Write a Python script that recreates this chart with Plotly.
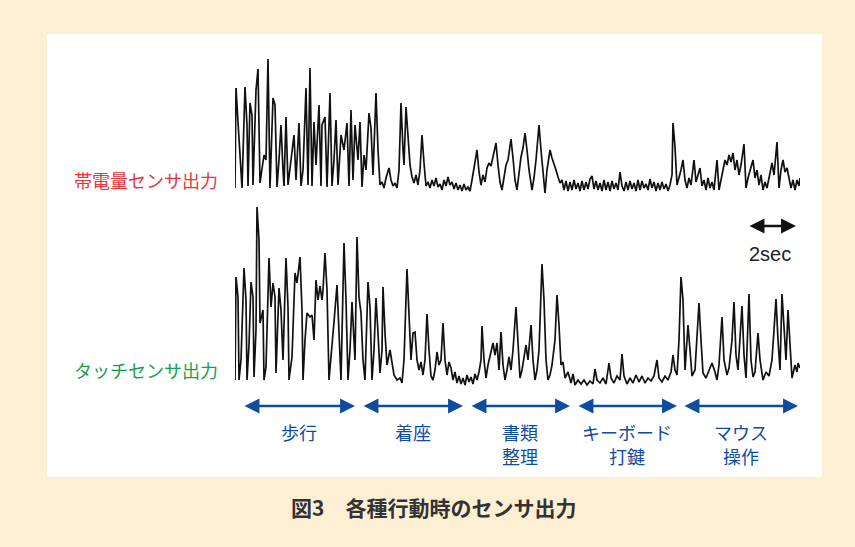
import plotly.graph_objects as go

# ---------------- data ----------------
SAMPLE_RATE = 24  # samples per second (sample index -> seconds)

# 帯電量センサ出力 (charge sensor), sample index and amplitude (a.u.)
charge_n = [0, 1, 3, 5, 7, 10, 12, 13, 15, 17, 18, 21, 23, 25, 27, 29, 31, 33, 35, 38, 40, 42, 44, 46, 48, 49,
            51, 53, 56, 59, 61, 64, 66, 68, 71, 73, 75, 77, 79, 81, 84, 86, 87, 90, 92, 95, 97, 99, 101, 103,
            106, 109, 112, 114, 116, 118, 120, 123, 125, 127, 129, 131, 134, 136, 138, 141, 143, 145,
            147, 149, 151, 154, 156, 158, 160, 162, 164, 166, 168, 169, 171, 173, 175, 177, 179, 181, 183, 185,
            187, 189, 191, 193, 195, 197, 199, 201, 203, 205, 207, 209, 211, 213, 215, 217, 219, 221, 223, 225,
            227, 229, 231, 233, 235,
            237, 239, 242, 244, 246, 248, 250, 252, 254, 256, 258, 261, 263, 265, 267, 269, 271, 273, 276, 278,
            280, 282, 284, 286, 288, 290, 292, 294, 297, 299, 301, 304, 306, 308, 310, 312, 315, 317, 319, 321,
            323, 325, 327,
            329, 331, 333, 335, 337, 339, 341, 343, 345, 347, 349, 351, 353, 355, 357, 359, 361, 363, 365, 367,
            369, 371, 373, 375, 377, 379, 381, 383, 385, 387, 389, 391, 393, 395, 397, 399, 401, 403, 405, 407,
            409, 411, 413, 415, 417, 419, 421, 423, 425, 427, 429, 431, 433, 435,
            437, 438, 440, 442, 444, 446, 448, 450, 452, 454, 456, 459, 461, 463, 465, 467, 469, 471, 473, 475,
            477, 479, 482, 484, 486, 488, 490, 492, 494, 496, 498, 500, 502, 504, 506, 509, 511, 513, 515, 518,
            520, 522, 524, 526, 528, 530, 532, 534, 537, 539, 542, 544, 546, 548, 550, 552, 554, 556, 558, 560,
            562, 564, 565]
charge_v = [5, 105, 71, 43, 5, 106, 68, 7, 90, 78, 8, 103, 124, 10, 23, 38, 33, 134, 5, 95, 88, 6, 33, 68, 23, 7,
            76, 8, 33, 58, 13, 70, 7, 23, 105, 8, 125, 7, 71, 28, 88, 7, 68, 76, 6, 100, 7, 33, 73, 8,
            58, 43, 70, 7, 83, 13, 68, 33, 71, 6, 38, 23, 80, 65, 18, 100, 43, 8,
            11, 5, 15, 25, 13, 7, 10, 5, 23, 90, 43, 28, 86, 60, 28, 16, 10, 18, 8, 23,
            58, 30, 7, 11, 5, 13, 7, 15, 6, 9, 3, 13, 7, 16, 8, 11, 4, 10, 3, 8,
            2, 9, 3, 6, 2,
            13, 25, 43, 21, 8, 18, 11, 25, 30, 27, 35, 50, 28, 11, 3, 15, 28, 33, 54, 35,
            13, 3, 18, 36, 45, 60, 43, 23, 3, 15, 33, 68, 43, 18, 0, 23, 43, 35, 30, 23,
            16, 10, 13,
            3, 12, 2, 11, 3, 13, 4, 10, 2, 12, 3, 11, 4, 14, 17, 4, 12, 3, 10, 2,
            13, 3, 11, 2, 12, 4, 10, 3, 21, 7, 2, 11, 3, 12, 4, 10, 2, 13, 3, 12,
            5, 9, 3, 14, 5, 11, 2, 10, 3, 11, 4, 9, 2, 8,
            18, 70, 46, 8, 15, 23, 33, 13, 5, 15, 8, 33, 11, 18, 25, 7, 13, 3, 15, 5,
            11, 3, 33, 3, 13, 23, 33, 28, 38, 31, 40, 23, 33, 18, 28, 49, 5, 15, 23, 33,
            15, 23, 8, 18, 3, 11, 5, 15, 30, 18, 51, 5, 23, 33, 21, 25, 13, 5, 13, 3,
            13, 7, 15]

# タッチセンサ出力 (touch sensor), sample index and amplitude (a.u.)
touch_n = [0, 1, 3, 4, 6, 9, 11, 12, 14, 16, 18, 19, 21, 22, 24, 25, 28, 29, 31, 34, 36, 38, 40, 41, 44, 46,
           48, 51, 53, 54, 57, 60, 62, 65, 67, 68, 70, 72, 75, 77, 79, 81, 83, 85, 87, 88, 90, 92, 94, 97,
           99, 102, 104, 106, 109, 111, 113, 115, 117, 119, 120, 122, 124, 126, 128, 130, 133, 135, 137, 139,
           141, 143, 145, 147, 148, 150, 152, 155, 157, 159, 162, 165, 167, 169, 172, 174, 176, 178, 180, 182,
           184, 186, 188, 190, 192, 194, 196, 198, 200, 202, 204, 206, 208, 210, 212, 214, 216, 218, 220, 222,
           224, 226, 228, 230, 232, 234, 236, 238, 240, 242, 244, 246, 247, 249, 251, 253, 255, 258, 260, 262,
           264, 266, 268, 270, 272, 274, 276, 278, 281, 283, 285, 287, 289, 291, 293, 296, 298, 300, 302, 304,
           307, 309, 311, 313, 315, 317, 320, 322, 324, 326, 328, 330, 333, 336, 338, 340, 343, 346, 349, 352,
           355, 358, 360, 362, 365, 368, 371, 374, 376, 379, 382, 385, 387, 389, 392, 395, 398, 401, 404, 407,
           410, 413, 416, 419, 422, 424, 427, 430, 433, 436, 438, 440, 442, 444, 446, 448, 450, 453, 455, 457,
           460, 462, 464, 466, 468, 471, 474, 477, 480, 482, 484, 487, 489, 492, 494, 497, 499, 501, 503, 507,
           509, 511, 514, 516, 518, 520, 523, 525, 528, 531, 534, 537, 539, 541, 543, 545, 547, 549, 551, 553,
           555, 557, 560, 562, 563, 565]
touch_v = [7, 110, 90, 7, 27, 119, 87, 7, 42, 105, 90, 10, 57, 180, 147, 64, 77, 7, 20, 129, 80, 104, 90, 14, 99, 77,
           27, 129, 80, 7, 30, 114, 104, 130, 77, 7, 47, 74, 70, 72, 47, 107, 87, 101, 87, 97, 134, 97, 7, 47,
           65, 102, 47, 7, 144, 87, 7, 37, 85, 40, 27, 150, 90, 74, 27, 7, 105, 80, 7, 37,
           89, 54, 14, 37, 100, 54, 22, 37, 25, 12, 7, 9, 4, 27, 118, 70, 27, 54, 55, 27,
           17, 25, 12, 27, 73, 37, 11, 7, 17, 35, 22, 27, 64, 27, 12, 25, 19, 7, 15, 4,
           11, 3, 9, 2, 12, 5, 10, 3, 13, 7, 15, 27, 61, 27, 9, 22, 32, 44, 32, 44,
           17, 55, 22, 7, 17, 30, 17, 37, 80, 37, 9, 17, 32, 42, 27, 62, 27, 7, 17, 37,
           123, 87, 27, 7, 12, 22, 47, 92, 62, 22, 25, 9, 15, 4, 13, 2, 7, 3, 7, 2,
           6, 3, 18, 7, 4, 9, 3, 24, 9, 4, 11, 7, 33, 11, 3, 9, 4, 12, 5, 11,
           4, 9, 6, 11, 27, 9, 5, 11, 7, 15, 32, 17, 12, 47, 110, 87, 17, 62, 37, 11,
           17, 47, 84, 47, 14, 9, 17, 24, 15, 7, 22, 70, 27, 12, 19, 47, 85, 32, 17, 81,
           32, 9, 93, 27, 10, 15, 54, 27, 7, 15, 11, 27, 57, 88, 47, 17, 93, 57, 27, 77,
           37, 9, 22, 15, 24, 19]

# activity segments (sample index start, end) and their labels (one list per text line)
segment_start = [8, 127, 235, 342, 448]
segment_end = [120, 228, 335, 442, 563]
segment_line1 = ["歩行", "着座", "書類", "キーボード", "マウス"]
segment_line2 = ["", "", "整理", "打鍵", "操作"]

# scale bar (seconds)
scale_end_s = 23.375
scale_len_s = 2.0

series_labels = ["帯電量センサ出力", "タッチセンサ出力"]
caption = "図3　各種行動時のセンサ出力"

# ---------------- figure ----------------
W, H = 855, 547
CREAM = "#FDEFD3"
BLUE = "#0F4C9E"
JP = "Noto Sans CJK JP"

fig = go.Figure()
fig.add_trace(go.Scatter(x=[n / SAMPLE_RATE for n in charge_n], y=charge_v, mode="lines",
                         line=dict(color="#111111", width=1.7), xaxis="x", yaxis="y",
                         showlegend=False, hoverinfo="skip"))
fig.add_trace(go.Scatter(x=[n / SAMPLE_RATE for n in touch_n], y=touch_v, mode="lines",
                         line=dict(color="#111111", width=1.7), xaxis="x", yaxis="y2",
                         showlegend=False, hoverinfo="skip"))

x_dom = [235 / W, 800 / W]
t_max = 565 / SAMPLE_RATE


def ydom(top_px, bottom_px):
    return [(H - bottom_px) / H, (H - top_px) / H]


fig.update_layout(
    width=W, height=H,
    margin=dict(l=0, r=0, t=0, b=0),
    paper_bgcolor=CREAM,
    plot_bgcolor="rgba(0,0,0,0)",
    xaxis=dict(domain=x_dom, range=[0, t_max], visible=False, fixedrange=True),
    yaxis=dict(domain=ydom(43, 193), range=[0, 150], visible=False, fixedrange=True),
    yaxis2=dict(domain=ydom(197, 387), range=[0, 190], visible=False, fixedrange=True),
    font=dict(family=JP),
)

# white panel
fig.add_shape(type="rect", xref="paper", yref="paper",
              x0=47 / W, x1=822 / W, y0=(H - 477) / H, y1=(H - 34) / H,
              fillcolor="white", line=dict(width=0), layer="below")

ann = []
# series labels
ann.append(dict(text=series_labels[0], xref="paper", yref="paper", x=72 / W, y=(H - 180) / H,
                xanchor="left", yanchor="middle", showarrow=False,
                font=dict(family=JP, size=18, color="#E8333C")))
ann.append(dict(text=series_labels[1], xref="paper", yref="paper", x=72 / W, y=(H - 370) / H,
                xanchor="left", yanchor="middle", showarrow=False,
                font=dict(family=JP, size=18, color="#16A04A")))

# activity arrows and labels
arrow_y = (H - 406) / H
for s, e, l1, l2 in zip(segment_start, segment_end, segment_line1, segment_line2):
    ann.append(dict(text="", xref="x", yref="paper", x=e / SAMPLE_RATE, y=arrow_y,
                    axref="x", ayref="pixel", ax=s / SAMPLE_RATE, ay=0,
                    showarrow=True, arrowside="end+start", arrowhead=2, startarrowhead=2,
                    arrowsize=1.15, startarrowsize=1.15, arrowwidth=2.6, arrowcolor=BLUE,
                    standoff=0, startstandoff=0))
    cx = (s + e) / 2 / SAMPLE_RATE
    for txt, ypx in ((l1, 431.5), (l2, 455.5)):
        if txt:
            ann.append(dict(text=txt, xref="x", yref="paper", x=cx, y=(H - ypx) / H,
                            xanchor="center", yanchor="middle", showarrow=False, borderpad=0,
                            font=dict(family=JP, size=18, color=BLUE)))

# 2 sec scale bar
scale_y = (H - 226) / H
ann.append(dict(text="", xref="x", yref="paper", x=scale_end_s, y=scale_y,
                axref="x", ayref="pixel", ax=scale_end_s - scale_len_s, ay=0,
                showarrow=True, arrowside="end+start", arrowhead=2, startarrowhead=2,
                arrowsize=1.15, startarrowsize=1.15, arrowwidth=2.6, arrowcolor="#111111",
                standoff=0, startstandoff=0))
ann.append(dict(text="2sec", xref="x", yref="paper", x=scale_end_s - scale_len_s / 2 - 0.08, y=(H - 254) / H,
                xanchor="center", yanchor="middle", showarrow=False,
                font=dict(family="Liberation Sans, Arial", size=20, color="#222222")))

# caption
ann.append(dict(text="<b>" + caption + "</b>", xref="paper", yref="paper", x=433 / W, y=(H - 507) / H,
                xanchor="center", yanchor="middle", showarrow=False,
                font=dict(family=JP, size=21, color="#333333")))

fig.update_layout(annotations=ann)
fig.write_html("out.html", config={"displayModeBar": False},
               post_script="document.body.style.margin='0px';")
